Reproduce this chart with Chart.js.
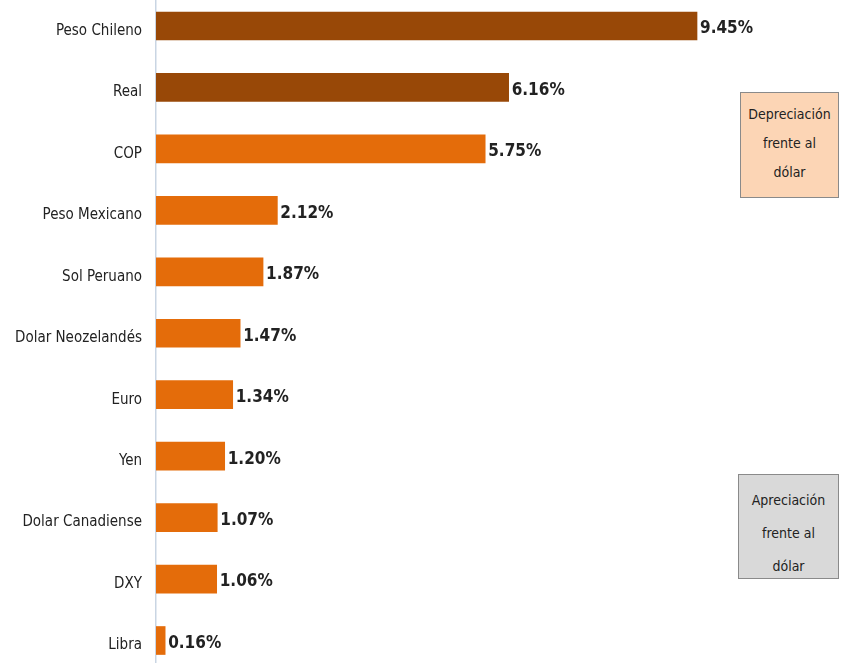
<!DOCTYPE html>
<html><head><meta charset="utf-8">
<script src="https://cdn.jsdelivr.net/npm/chart.js@4/dist/chart.umd.min.js"></script>
<style>
html,body{margin:0;padding:0;background:#fff;}
#wrap{position:relative;width:843px;height:663px;}
.box{position:absolute;box-sizing:border-box;border:1.5px solid #8a8a8a;font-family:'DejaVu Sans Condensed','DejaVu Sans',sans-serif;font-size:14px;color:#222;text-align:center;overflow:hidden;}
</style></head>
<body><div id="wrap"><canvas id="c" width="843" height="663"></canvas>
<div class="box" style="left:740px;top:92px;width:99px;height:106px;background:#FCD5B5;line-height:29px;padding-top:7px;">Depreciación<br>frente al<br>dólar</div>
<div class="box" style="left:738px;top:474px;width:101px;height:105px;background:#D9D9D9;line-height:33px;padding-top:9px;">Apreciación<br>frente al<br>dólar</div>
</div>
<script>
const categories = ['Peso Chileno','Real','COP','Peso Mexicano','Sol Peruano','Dolar Neozelandés','Euro','Yen','Dolar Canadiense','DXY','Libra'];
const values = [9.45,6.16,5.75,2.12,1.87,1.47,1.34,1.20,1.07,1.06,0.16];
const barColors = ['#984807','#984807','#E46C0A','#E46C0A','#E46C0A','#E46C0A','#E46C0A','#E46C0A','#E46C0A','#E46C0A','#E46C0A'];

const points = values.map((v,i)=>({x:v,y:i}));
const valueLabels = {
  id:'valueLabels',
  afterDatasetsDraw(chart){
    const ctx = chart.ctx;
    const meta = chart.getDatasetMeta(0);
    ctx.save();
    ctx.font = 'bold 17px "DejaVu Sans Condensed","DejaVu Sans",sans-serif';
    ctx.fillStyle = '#222';
    ctx.textBaseline = 'middle';
    ctx.textAlign = 'left';
    meta.data.forEach((el,i)=>{
      ctx.fillText(values[i].toFixed(2)+'%', el.x+3, el.y+3);
    });
    ctx.restore();
  }
};
new Chart(document.getElementById('c'),{
  type:'bar',
  data:{datasets:[{data:points,backgroundColor:barColors,borderWidth:0,barThickness:28}]},
  options:{
    indexAxis:'y',
    responsive:false,
    animation:false,
    layout:{padding:0},
    plugins:{legend:{display:false},tooltip:{enabled:false}},
    scales:{
      x:{type:'linear',min:0,max:12,display:false},
      y:{type:'linear',reverse:true,offset:false,min:-0.423,max:10.366,
         afterBuildTicks(scale){scale.ticks = categories.map((c,i)=>({value:i}));},
         afterFit(scale){scale.width=156;scale.paddingTop=0;scale.paddingBottom=0;},
         grid:{display:false,drawTicks:false},
         border:{display:true,color:'#c9d5e3',width:1.5},
         ticks:{padding:14,labelOffset:5,color:'#222',font:{family:'"DejaVu Sans Condensed","DejaVu Sans",sans-serif',size:15},
           callback:(v)=>categories[v]}
      }
    }
  },
  plugins:[valueLabels]
});
</script>
</body></html>
